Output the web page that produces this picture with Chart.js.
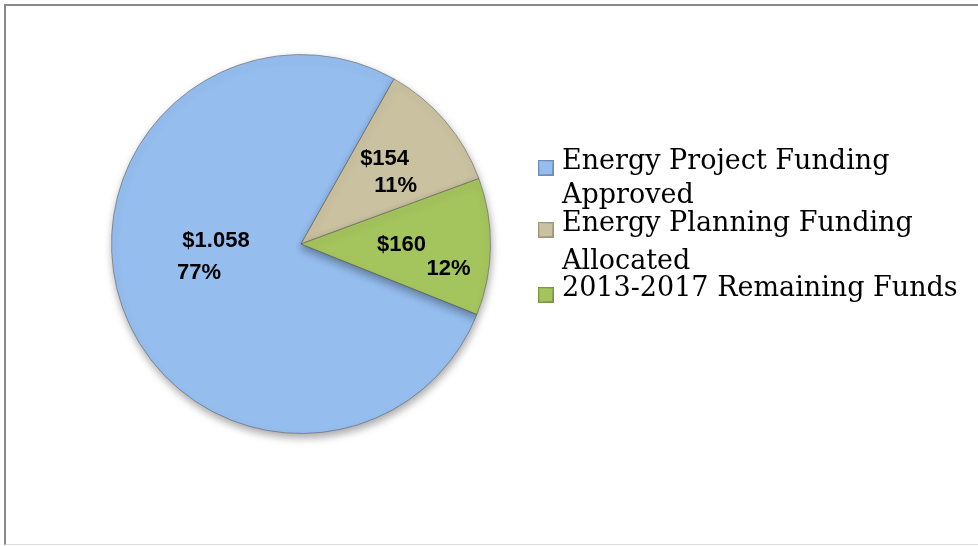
<!DOCTYPE html>
<html>
<head>
<meta charset="utf-8">
<script src="https://cdn.jsdelivr.net/npm/chart.js@4.4.1/dist/chart.umd.min.js"></script>
<style>
  html, body { margin: 0; padding: 0; background: #ffffff; }
  #wrap { position: relative; width: 978px; height: 546px; overflow: hidden; }
  #frame { position: absolute; left: 4px; top: 4px; width: 990px; height: 541px;
           border-left: 2px solid #8a8a8a; border-top: 2px solid #8a8a8a; border-bottom: 1px solid #dcdcdc; box-sizing: border-box; }
  canvas { position: absolute; left: 0; top: 0; }
</style>
</head>
<body>
<div id="wrap">
  <div id="frame"></div>
  <canvas id="c" width="978" height="546"></canvas>
</div>
<script>
const categories = [
  ["Energy Project Funding", "Approved"],
  ["Energy Planning Funding", "Allocated"],
  ["2013-2017 Remaining Funds"]
];
const values = [1058, 154, 160];
const valueLabels = ["$1.058", "$154", "$160"];
const percentLabels = ["77%", "11%", "12%"];
const colors = ["#95BDEE", "#C9C19F", "#A4C45E"];
const edgeColors = ["#6F8DB3", "#9C967A", "#7C9645"];

// draws value / percent labels inside slices, anchored on each arc's mid-angle
const sliceLabels = {
  id: 'sliceLabels',
  afterDatasetsDraw(chart) {
    const ctx = chart.ctx;
    const meta = chart.getDatasetMeta(0);
    const cfg = [
      { f: 0.47, l1: [-1, -33], l2: [-18, -1] },
      { f: 0.60, l1: [-3, -11], l2: [8, 16] },
      { f: 0.62, l1: [-17, -1], l2: [30, 23] }
    ];
    ctx.save();
    ctx.font = "bold 22px 'Liberation Sans', Arial, sans-serif";
    ctx.fillStyle = "#000";
    ctx.textAlign = "center";
    ctx.textBaseline = "middle";
    meta.data.forEach((arc, i) => {
      const p = arc.getProps(['x', 'y', 'startAngle', 'endAngle', 'outerRadius'], true);
      const mid = (p.startAngle + p.endAngle) / 2;
      const r = p.outerRadius * cfg[i].f;
      const ax = p.x + Math.cos(mid) * r;
      const ay = p.y + Math.sin(mid) * r;
      ctx.fillText(valueLabels[i], ax + cfg[i].l1[0], ay + cfg[i].l1[1]);
      ctx.fillText(percentLabels[i], ax + cfg[i].l2[0], ay + cfg[i].l2[1]);
    });
    ctx.restore();
  }
};

// soft drop shadow under the pie
const pieShadow = {
  id: 'pieShadow',
  beforeDatasetsDraw(chart) {
    const ctx = chart.ctx;
    ctx.save();
    ctx.shadowColor = "rgba(0,0,0,0.35)";
    ctx.shadowBlur = 8;
    ctx.shadowOffsetX = 1;
    ctx.shadowOffsetY = 4;
  },
  afterDatasetsDraw(chart) {
    chart.ctx.restore();
  }
};

// legend drawn to the right of the pie
const sideLegend = {
  id: 'sideLegend',
  afterDraw(chart) {
    const ctx = chart.ctx;
    const x0 = 538, textX = 562;
    const starts = [162, 224, 289];
    ctx.save();
    ctx.font = "27px 'DejaVu Serif', serif";
    ctx.textBaseline = "middle";
    ctx.textAlign = "left";
    categories.forEach((lines, i) => {
      const y = starts[i];
      const by = y + 6;
      const g = ctx.createLinearGradient(x0, by - 8, x0 + 16, by + 8);
      g.addColorStop(0, colors[i]);
      g.addColorStop(1, edgeColors[i]);
      ctx.fillStyle = g;
      ctx.fillRect(x0, by - 8, 16, 16);
      ctx.fillStyle = colors[i];
      ctx.fillRect(x0 + 2, by - 6, 12, 12);
      ctx.strokeStyle = edgeColors[i];
      ctx.lineWidth = 1;
      ctx.strokeRect(x0 + 0.5, by - 7.5, 15, 15);
      ctx.fillStyle = "#000";
      lines.forEach((t, j) => {
        ctx.fillText(t, textX, y + j * (i === 1 ? 38 : 34));
      });
    });
    ctx.restore();
  }
};

new Chart(document.getElementById('c'), {
  type: 'pie',
  data: {
    labels: categories.map(c => c.join(' ')),
    datasets: [{
      data: values,
      backgroundColor: colors,
      borderColor: "rgba(90,90,90,0.55)",
      borderWidth: 1
    }]
  },
  options: {
    responsive: false,
    animation: false,
    rotation: 111.8,
    layout: { padding: { left: 111, right: 487, top: 53, bottom: 111 } },
    plugins: {
      legend: { display: false },
      tooltip: { enabled: false },
      title: { display: false }
    }
  },
  plugins: [pieShadow, sliceLabels, sideLegend]
});
</script>
</body>
</html>
